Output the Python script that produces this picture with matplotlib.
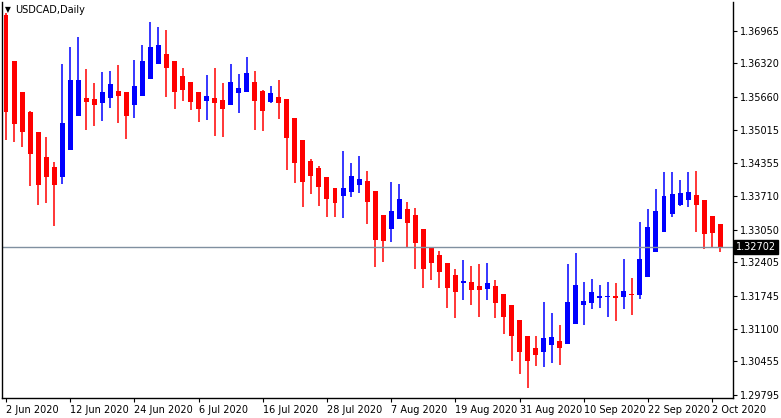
import matplotlib
matplotlib.use("Agg")
import matplotlib.pyplot as plt
import numpy as np

opens  = [1.3727,1.3636,1.3575,1.3537,1.3497,1.3447,1.3428,1.3409,1.3462,1.3529,
          1.3564,1.3562,1.3554,1.3564,1.3578,1.3575,1.3550,1.3568,1.3601,1.3631,
          1.3651,1.3637,1.3607,1.3596,1.3576,1.3558,1.3564,1.3560,1.3551,1.3573,
          1.3576,1.3596,1.3578,1.3557,1.3566,1.3562,1.3525,1.3481,1.3440,1.3426,
          1.3409,1.3387,1.3372,1.3380,1.3393,1.3401,1.3381,1.3334,1.3307,1.3325,
          1.3346,1.3334,1.3306,1.3269,1.3255,1.3239,1.3216,1.3199,1.3202,1.3194,
          1.3189,1.3194,1.3178,1.3157,1.3127,1.3096,1.3072,1.3065,1.3077,1.3086,
          1.3079,1.3120,1.3157,1.3161,1.3171,1.3173,1.3174,1.3173,1.3178,1.3177,
          1.3212,1.3260,1.3301,1.3336,1.3353,1.3364,1.3373,1.3363,1.3332,1.3316]
highs  = [1.3731,1.3636,1.3576,1.3538,1.3498,1.3488,1.3438,1.3631,1.3665,1.3685,
          1.3621,1.3594,1.3616,1.3617,1.3629,1.3575,1.3639,1.3669,1.3714,1.3704,
          1.3698,1.3637,1.3623,1.3596,1.3576,1.3609,1.3623,1.3594,1.3631,1.3611,
          1.3645,1.3617,1.3580,1.3588,1.3599,1.3562,1.3525,1.3481,1.3444,1.3430,
          1.3409,1.3387,1.3460,1.3436,1.3450,1.3420,1.3381,1.3334,1.3399,1.3395,
          1.3359,1.3348,1.3306,1.3270,1.3263,1.3239,1.3228,1.3245,1.3233,1.3237,
          1.3239,1.3206,1.3178,1.3157,1.3127,1.3096,1.3096,1.3163,1.3141,1.3117,
          1.3237,1.3259,1.3202,1.3208,1.3196,1.3202,1.3200,1.3247,1.3210,1.3320,
          1.3346,1.3385,1.3418,1.3418,1.3403,1.3418,1.3420,1.3363,1.3332,1.3316]
lows   = [1.3481,1.3478,1.3467,1.3390,1.3353,1.3358,1.3312,1.3395,1.3462,1.3529,
          1.3501,1.3509,1.3519,1.3544,1.3515,1.3483,1.3525,1.3568,1.3601,1.3631,
          1.3566,1.3542,1.3558,1.3540,1.3517,1.3521,1.3489,1.3488,1.3551,1.3535,
          1.3576,1.3501,1.3500,1.3554,1.3523,1.3422,1.3397,1.3350,1.3376,1.3352,
          1.3329,1.3330,1.3327,1.3370,1.3378,1.3317,1.3232,1.3242,1.3281,1.3325,
          1.3269,1.3228,1.3191,1.3205,1.3191,1.3151,1.3132,1.3167,1.3157,1.3134,
          1.3167,1.3132,1.3100,1.3047,1.3020,1.2994,1.3037,1.3035,1.3043,1.3039,
          1.3079,1.3120,1.3118,1.3149,1.3151,1.3134,1.3126,1.3149,1.3136,1.3169,
          1.3212,1.3260,1.3301,1.3330,1.3352,1.3350,1.3301,1.3266,1.3269,1.3261]
closes = [1.3537,1.3513,1.3498,1.3454,1.3393,1.3409,1.3393,1.3515,1.3599,1.3599,
          1.3556,1.3550,1.3575,1.3592,1.3568,1.3529,1.3588,1.3637,1.3664,1.3669,
          1.3624,1.3575,1.3580,1.3556,1.3543,1.3568,1.3555,1.3543,1.3596,1.3584,
          1.3613,1.3559,1.3539,1.3574,1.3555,1.3486,1.3437,1.3399,1.3411,1.3388,
          1.3366,1.3358,1.3387,1.3411,1.3405,1.3360,1.3285,1.3283,1.3342,1.3365,
          1.3319,1.3279,1.3228,1.3240,1.3222,1.3191,1.3183,1.3204,1.3187,1.3187,
          1.3200,1.3161,1.3134,1.3096,1.3065,1.3047,1.3059,1.3092,1.3094,1.3073,
          1.3163,1.3196,1.3165,1.3182,1.3174,1.3174,1.3171,1.3184,1.3177,1.3247,
          1.3310,1.3342,1.3371,1.3375,1.3377,1.3379,1.3354,1.3297,1.3299,1.3270]
tick_labels = ["2 Jun 2020","12 Jun 2020","24 Jun 2020","6 Jul 2020","16 Jul 2020",
               "28 Jul 2020","7 Aug 2020","19 Aug 2020","31 Aug 2020","10 Sep 2020",
               "22 Sep 2020","2 Oct 2020"]
y_ticks = [1.36965,1.36320,1.35660,1.35015,1.34355,1.33710,1.33050,1.32405,
           1.31745,1.31100,1.30455,1.29795]
last_price = 1.32702

W, H = 781, 418
fig = plt.figure(figsize=(W/100, H/100), dpi=100)
ax = fig.add_axes([2/W, (H-397.7)/H, 731/W, 395.7/H])
x = np.arange(len(opens))
o = np.array(opens); c = np.array(closes)
up = c >= o
cols = np.where(up, "#0000FF", "#FF0000")
ax.vlines(x, lows, highs, colors=cols, linewidth=1.1)
bottom = np.minimum(o, c)
height = np.maximum(np.abs(c - o), 0.00012)
ax.bar(x, height, bottom=bottom, width=0.62, color=cols, linewidth=0)
ax.axhline(last_price, color="#8090A0", linewidth=1)

ax.set_xlim(-0.5, 90.6)
ax.set_ylim(1.29742, 1.37530)
ax.yaxis.tick_right()
ax.set_yticks(y_ticks)
ax.set_yticklabels([f"{v:.5f}" for v in y_ticks], fontsize=7)
tpos = list(range(0, 89, 8))
ax.set_xticks(tpos)
ax.set_xticklabels(tick_labels, fontsize=7, ha="left")
ax.tick_params(axis="both", length=3, width=0.8, pad=2, colors="black")
for lab in ax.get_xticklabels():
    lab.set_x(lab.get_position()[0])
for s in ["top"]:
    ax.spines[s].set_visible(False)
for s in ["left", "right", "bottom"]:
    ax.spines[s].set_linewidth(1)

ax.text(1.004, last_price, f"{last_price:.5f}", transform=ax.get_yaxis_transform(),
        fontsize=7, color="white", va="center", ha="left",
        bbox=dict(boxstyle="square,pad=0.2", fc="black", ec="black"))
fig.text(5/W, 1 - 10/H, "\u25bc", fontsize=5.5, va="center", ha="left")
fig.text(15/W, 1 - 10/H, "USDCAD,Daily", fontsize=7, va="center", ha="left")
fig.savefig("out.png", dpi=100)
